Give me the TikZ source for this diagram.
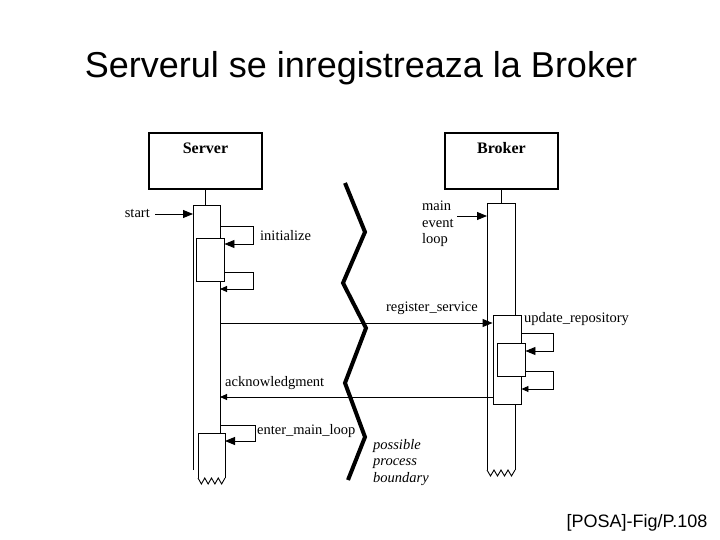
\documentclass[tikz,border=0pt]{standalone}
\usepackage{fontspec}
\setmainfont{Liberation Serif}
\newfontfamily\slidefont{Liberation Sans}
\usetikzlibrary{arrows.meta,positioning}
\tikzset{
  objbox/.style={draw,line width=1.3pt,minimum width=113pt,minimum height=56pt,inner sep=0pt},
  objname/.style={font=\fontsize{16}{18}\selectfont\bfseries,inner sep=0pt},
  actbox/.style={draw,line width=0.9pt,minimum width=28pt,inner sep=0pt,fill=white},
  lbl/.style={font=\fontsize{14.5}{16.5}\selectfont,inner sep=0pt},
  life/.style={line width=0.9pt},
  call/.style={line width=0.9pt,-{Triangle[length=10pt,width=8pt]}},
  back/.style={line width=0.9pt,-{Triangle[length=7pt,width=6pt]}},
  bound/.style={line width=4pt,line join=miter}
}
\begin{document}
\begin{tikzpicture}[x=1pt,y=-1pt]
\useasboundingbox[fill=white] (0,0) rectangle (720,540);
\node[font=\slidefont\fontsize{36}{40}\selectfont,anchor=base] (title) at (361,78) {Serverul se inregistreaza la Broker};
\node[font=\slidefont\fontsize{18}{20}\selectfont,anchor=base] (source) at (637,527) {[POSA]-Fig/P.108};

% objects
\node[objbox] (server) at (205.5,161) {};
\node[objname] (servername) at (205.5,148) {Server};
\node[objbox] (broker) at (501.5,161) {};
\node[objname] (brokername) at (501.5,148) {Broker};

% lifelines
\coordinate (sbarL) at (193,205);
\coordinate (sbarR) at (220,205);
\coordinate (bbarL) at (487,203);
\coordinate (bbarR) at (515,203);
\draw[life] (server.south) -- (server.south |- sbarL);
\draw[life] (broker.south) -- (broker.south |- bbarL);
\draw[life] (sbarL |- 0,470) -- (sbarL) -- (sbarR) -- (sbarR |- 0,433);
\draw[life] (bbarL |- 0,470) -- (bbarL) -- (bbarR) -- (bbarR |- 0,470);
\draw[life] (bbarL |- 0,470) \foreach \i in {1,...,4}{ -- ++(3.5,6) -- ++(3.5,-6)};

% Server activations
\node[actbox,minimum height=43pt] (init) at (210,259.5) {};
\draw[life,fill=white] (225,478) -- (225,433) -- (198,433) -- (198,478);
\draw[life] (198,478) \foreach \i in {1,...,4}{ -- ++(3.375,6) -- ++(3.375,-6)};

% Broker activations
\node[actbox,minimum height=89pt] (upd) at (507,359.5) {};
\node[actbox,minimum height=33pt] (updin) at (511,359.5) {};

% self calls
\draw[call] (sbarR |- 0,226) -- (253,226) -- (253,244) -- (init.east |- 0,244);
\draw[back] (init.east |- 0,272) -- (253,272) -- (253,289) -- (sbarR |- 0,289);
\draw[call] (sbarR |- 0,425) -- (255,425) -- (255,441) -- (225,441);
\draw[call] (upd.east |- 0,333) -- (553,333) -- (553,351) -- (updin.east |- 0,351);
\draw[back] (updin.east |- 0,371) -- (553,371) -- (553,389) -- (upd.east |- 0,389);

% messages
\draw[call] (sbarR |- 0,323) -- (upd.west |- 0,323);
\draw[back] (upd.west |- 0,397) -- (sbarR |- 0,397);

% labels
\node[lbl,anchor=east] (start) at (150,213) {start};
\coordinate (startfrom) at (155,214);
\draw[call] (startfrom) -- (sbarL |- startfrom);
\node[lbl,anchor=west] (initlbl) at (260,236) {initialize};
\node[lbl,anchor=north west,align=left] (mainloop) at (422,201) {main\\event\\loop};
\coordinate (loopfrom) at (457,216);
\draw[call] (loopfrom) -- (bbarL |- loopfrom);
\node[lbl,anchor=east] (reglbl) at (478,308) {register\_service};
\node[lbl,anchor=west] (updlbl) at (524,319) {update\_repository};
\node[lbl,anchor=west] (acklbl) at (225,383) {acknowledgment};
\node[lbl,anchor=west] (enterlbl) at (257,431) {enter\_main\_loop};
\node[lbl,font=\fontsize{14.5}{16.5}\selectfont\itshape,anchor=north west,align=left] (bndlbl) at (373,439) {possible\\process\\boundary};

% process boundary
\draw[bound] (345,183) -- (365,232) -- (343,283) -- (366,328) -- (345,383) -- (365,437) -- (348,480);
\end{tikzpicture}
\end{document}
